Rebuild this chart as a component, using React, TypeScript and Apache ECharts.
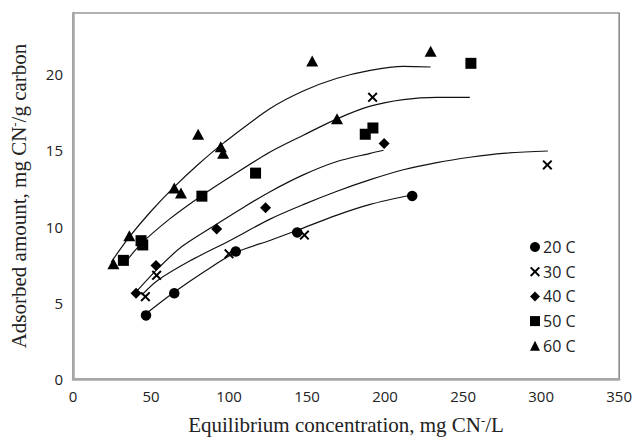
import React, { useEffect, useRef } from "react";
import * as echarts from "echarts";

const seriesNames = ["20 C", "30 C", "40 C", "50 C", "60 C"];

// measured points
const x20 = [46.8, 64.9, 104.3, 143.7, 217.4];
const y20 = [4.17, 5.62, 8.36, 9.61, 12.0];

const x30 = [46.4, 53.6, 100.0, 148.3, 192.0, 304.0];
const y30 = [5.4, 6.8, 8.21, 9.44, 18.47, 14.04];

const x40 = [40.4, 53.2, 92.1, 123.4, 199.4];
const y40 = [5.62, 7.45, 9.83, 11.23, 15.44];

const x50 = [32.3, 43.6, 44.7, 82.6, 117.0, 187.3, 192.2, 255.0];
const y50 = [7.78, 9.07, 8.79, 11.99, 13.5, 16.05, 16.46, 20.7];

const x60 = [25.9, 36.1, 64.9, 69.2, 80.2, 94.7, 96.2, 153.3, 169.2, 229.2];
const y60 = [7.56, 9.4, 12.53, 12.2, 16.05, 15.23, 14.8, 20.85, 17.06, 21.5];

// fitted curves
const fx20 = [47, 65, 85, 104.3, 126.6, 143.7, 169.2, 190.5, 216];
const fy20 = [4.3, 5.7, 7.1, 8.3, 9.1, 9.75, 10.75, 11.45, 12.05];

const fx30 = [44, 54, 75, 100, 126.6, 147.9, 169.2, 190.5, 211.7, 233.1, 254.3, 275.6, 304.3];
const fy30 = [5.5, 6.45, 7.75, 9.05, 10.5, 11.45, 12.31, 13.07, 13.72, 14.19, 14.54, 14.8, 14.95];

const fx40 = [41.5, 55, 70, 92, 110, 126.6, 147.9, 169.2, 190.5, 199];
const fy40 = [5.83, 7.3, 8.7, 10.15, 11.3, 12.3, 13.4, 14.26, 14.8, 15.0];

const fx50 = [32, 43.6, 62, 81.9, 101.1, 126.6, 147.9, 169.2, 190.5, 211.7, 233.1, 254.3];
const fy50 = [7.45, 8.86, 10.5, 11.99, 13.28, 14.9, 16.0, 17.06, 17.89, 18.32, 18.47, 18.47];

const fx60 = [24.5, 36, 50, 64.9, 80, 96.8, 126.6, 147.9, 169.2, 190.5, 211.7, 229.2];
const fy60 = [7.67, 9.3, 11.0, 12.6, 14.05, 15.5, 17.75, 18.9, 19.72, 20.24, 20.5, 20.46];

const xTicks = [0, 50, 100, 150, 200, 250, 300, 350];
const yTicks = [0, 5, 10, 15, 20];

const CROSS =
  "path://M0,1.4L1.4,0L5,3.6L8.6,0L10,1.4L6.4,5L10,8.6L8.6,10L5,6.4L1.4,10L0,8.6L3.6,5Z";
const symbols = ["circle", CROSS, "diamond", "rect", "triangle"];
const sizes: any[] = [10.5, 10, 11, 11, [12, 11]];

export default function App() {
  const ref = useRef<HTMLDivElement>(null);
  useEffect(() => {
    if (!ref.current) return;
    const chart = echarts.init(ref.current, undefined, { renderer: "svg" });
    const xsAll = [x20, x30, x40, x50, x60];
    const ysAll = [y20, y30, y40, y50, y60];
    const fxAll = [fx20, fx30, fx40, fx50, fx60];
    const fyAll = [fy20, fy30, fy40, fy50, fy60];
    const series: any[] = [];
    fxAll.forEach((xs, i) => {
      series.push({
        name: "fit" + i,
        type: "line",
        data: xs.map((x, j) => [x, fyAll[i][j]]),
        showSymbol: false,
        smooth: 0.3,
        silent: true,
        lineStyle: { color: "#111", width: 1.2 },
        z: 1,
      });
    });
    xsAll.forEach((xs, i) => {
      series.push({
        name: seriesNames[i],
        type: "scatter",
        data: xs.map((x, j) => [x, ysAll[i][j]]),
        symbol: symbols[i],
        symbolSize: sizes[i],
        itemStyle: { color: "#000", opacity: 1 },
        z: 3,
      });
    });
    const sans = "'Open Sans', 'Noto Sans', sans-serif";
    const serif = "'Liberation Serif', 'DejaVu Serif', serif";
    const nameStyle = {
      fontFamily: serif,
      fontSize: 21,
      color: "#222",
      lineHeight: 22,
      rich: {
        sup: {
          fontFamily: serif,
          fontSize: 13,
          color: "#222",
          lineHeight: 13,
          verticalAlign: "top",
        },
      },
    };
    chart.setOption({
      animation: false,
      backgroundColor: "#fff",
      grid: {
        left: 72,
        top: 13,
        right: 15,
        bottom: 56,
        show: true,
        borderColor: "#666",
        borderWidth: 1.2,
      },
      legend: {
        orient: "vertical",
        left: 525,
        top: 234,
        itemWidth: 10,
        itemHeight: 10,
        itemGap: 8.7,
        selectedMode: false,
        data: seriesNames.map((n, i) => ({ name: n, icon: symbols[i] })),
        textStyle: {
          fontFamily: sans,
          fontSize: 16,
          color: "#222",
          lineHeight: 16,
          padding: [0, 0, 0, -2],
        },
      },
      xAxis: {
        type: "value",
        min: xTicks[0],
        max: xTicks[xTicks.length - 1],
        interval: xTicks[1] - xTicks[0],
        name: "Equilibrium concentration, mg CN{sup|-}/L",
        nameLocation: "middle",
        nameGap: 35,
        nameTextStyle: nameStyle,
        axisLine: { show: true, lineStyle: { color: "#a6a6a6", width: 2.5 } },
        axisTick: { show: false },
        splitLine: { show: false },
        axisLabel: { fontFamily: sans, fontSize: 15, color: "#222", margin: 9 },
      },
      yAxis: {
        type: "value",
        min: yTicks[0],
        max: 24,
        interval: yTicks[1] - yTicks[0],
        name: "Adsorbed amount, mg CN{sup|-}/g carbon",
        nameLocation: "middle",
        nameGap: 43,
        nameTextStyle: nameStyle,
        axisLine: { show: true, lineStyle: { color: "#a6a6a6", width: 2.5 } },
        axisTick: { show: false },
        splitLine: { show: false },
        axisLabel: {
          fontFamily: sans,
          fontSize: 15,
          color: "#222",
          margin: 10,
          showMaxLabel: false,
        },
      },
      series,
    });
    return () => chart.dispose();
  }, []);
  return (
    <div
      ref={ref}
      style={{ position: "absolute", left: 0, top: 0, width: 635, height: 441 }}
    />
  );
}
